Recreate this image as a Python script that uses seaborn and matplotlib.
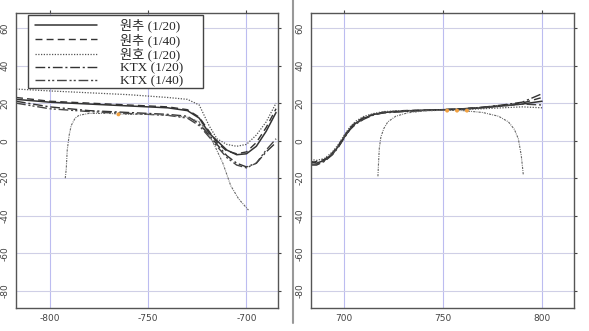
import matplotlib
matplotlib.use("Agg")
import matplotlib.pyplot as plt
from matplotlib.lines import Line2D
from matplotlib.patches import Rectangle
import seaborn as sns

sns.set_style("white")
plt.rcParams['font.family'] = ['DejaVu Sans', 'Noto Sans CJK KR']

labels = ["원추 (1/20)", "원추 (1/40)", "원호 (1/20)", "KTX (1/20)", "KTX (1/40)"]
styles = ["-", (0, (5, 3)), (0, (1, 1.2)), (0, (7, 2, 1.5, 2)), (0, (7, 2, 1.5, 1.5, 1.5, 2))]
colors = ["#333333", "#333333", "#555555", "#333333", "#444444"]
widths = [1.1, 1.0, 0.9, 1.0, 1.0]

# Left panel (negative side)
L_x = [-817, -800, -780, -760, -740, -730, -724, -719, -715, -710, -705, -700, -695, -690, -685]
L_c20 = [22, 20.5, 19.5, 18.5, 17.5, 16, 12, 4, 0, -5, -7.5, -7, -3, 5, 15]
L_c40 = [23, 21, 20, 19, 18, 16.5, 12.5, 5, -1, -5.5, -7, -6, -1, 7, 17]
L_h20 = [27.5, 26.5, 25.5, 24.5, 23, 22, 19, 8, 1, -2, -3, -2, 3, 10, 20]
L_k20 = [21, 18, 16, 15, 14, 13, 9, 3, -2, -8, -12, -14, -12, -6, -1]
L_k40 = [20, 17, 15.5, 14.5, 13.5, 12, 8, 2, -3, -9, -13, -14.5, -12, -5, 1]
L_series = [L_c20, L_c40, L_h20, L_k20, L_k40]

L_ex_x = [-792, -791.5, -791, -790, -789, -787, -785, -780, -770, -760, -750, -740, -730, -724, -720, -716, -712, -708, -704, -699]
L_ex_y = [-20, -15, -5, 3, 8, 12, 13.5, 14.5, 14.5, 14, 14, 13.5, 12.5, 10, 5, -3, -12, -24, -31, -37]
L_dot_x = [-765]
L_dot_y = [14]

# Right panel (positive side)
R_x = [683, 686, 690, 694, 697, 700, 703, 706, 710, 715, 720, 730, 740, 750, 760, 770, 780, 790, 800]
R_c20 = [-11, -12, -10.5, -7, -3, 2, 6.5, 9.5, 12, 14, 15, 15.8, 16.2, 16.5, 16.8, 17.5, 18.5, 19.5, 21]
R_c40 = [-12, -11, -10, -6.5, -2.5, 2.5, 7, 10, 12.5, 14.2, 15.2, 16, 16.3, 16.5, 17, 17.8, 18.8, 20, 23]
R_h20 = [-10, -10.5, -9.5, -6, -2, 3, 7.5, 10.5, 13, 14.5, 15.5, 16, 16.2, 16.3, 16.5, 17, 17.5, 18, 17.5]
R_k20 = [-13, -13, -11, -7.5, -3.5, 1.5, 6, 9, 11.5, 13.8, 14.8, 15.5, 16, 16.5, 17, 17.8, 19, 20.5, 25]
R_k40 = [-12.5, -12.5, -10.8, -7.2, -3.2, 1.8, 6.2, 9.2, 11.8, 13.9, 14.9, 15.6, 16.1, 16.4, 16.9, 17.6, 18.5, 19.5, 19]
R_series = [R_c20, R_c40, R_h20, R_k20, R_k40]

R_ex_x = [717, 717.3, 717.7, 718.5, 720, 722, 726, 732, 740, 750, 760, 770, 778, 783, 786, 788, 789.5, 790.5]
R_ex_y = [-19, -12, -4, 2, 6.5, 10, 13, 14.8, 15.8, 16.2, 16, 15, 13, 10, 6, 1, -8, -18]
R_dot_x = [752, 757, 762]
R_dot_y = [16, 16, 16]

xticks_L = [-800, -750, -700]
xticks_R = [700, 750, 800]
yticks = [60, 40, 20, 0, -20, -40, -60, -80]

fig = plt.figure(figsize=(5.89, 3.31), dpi=100)
axL = fig.add_axes([0.0272, 0.0704, 0.4448, 0.8903])
axR = fig.add_axes([0.5275, 0.0704, 0.4465, 0.8903])

def draw(ax, xs, series, ex_x, ex_y, dx, dy, xlim, xticks):
    for ys, st, c, w in zip(series, styles, colors, widths):
        sns.lineplot(x=xs, y=ys, ax=ax, color=c, linestyle=st, linewidth=w,
                     estimator=None, sort=False, legend=False)
    sns.lineplot(x=ex_x, y=ex_y, ax=ax, color="#666666", linestyle=(0, (2, 1, 0.8, 1)),
                 linewidth=0.8, estimator=None, sort=False, legend=False)
    sns.scatterplot(x=dx, y=dy, ax=ax, color="#f0a040", s=8, edgecolor="none", legend=False, zorder=5)
    ax.set_xlim(*xlim)
    ax.set_ylim(-89, 68)
    ax.set_xticks(xticks)
    ax.set_yticks(yticks)
    ax.set_xticklabels([str(t) for t in xticks])
    ax.set_yticklabels([str(t) for t in yticks], rotation=90, va="center")
    for t in xticks:
        ax.axvline(t, color="#bcbcf0", linewidth=0.8, zorder=0)
    for t in yticks:
        ax.axhline(t, color="#cfcfe6", linewidth=0.8, zorder=0)
    for s in ax.spines.values():
        s.set_color("#555555")
        s.set_linewidth(1.0)
    ax.tick_params(axis="both", labelsize=6.5, colors="#444444", length=2.5, width=0.8,
                   direction="out", top=True, right=True, pad=2)
    ax.set_xlabel("")
    ax.set_ylabel("")

draw(axL, L_x, L_series, L_ex_x, L_ex_y, L_dot_x, L_dot_y, (-817, -684), xticks_L)
draw(axR, R_x, R_series, R_ex_x, R_ex_y, R_dot_x, R_dot_y, (683, 816), xticks_R)

# legend frame
axL.add_patch(Rectangle((0.047, 0.745), 0.6656, 0.248, transform=axL.transAxes,
                        facecolor="white", edgecolor="#444444", linewidth=1.0, zorder=6))

handles = [Line2D([0], [0], color=c, linestyle=st, linewidth=w) for st, c, w in zip(styles, colors, widths)]
leg = axL.legend(handles, labels, loc="upper left", bbox_to_anchor=(0.072, 0.98),
                 prop={"family": ["Liberation Serif", "Noto Sans CJK KR"], "size": 9.5},
                 frameon=False, handlelength=4.67, handletextpad=1.77, labelspacing=0.05,
                 borderpad=0.0, borderaxespad=0.0)
leg.set_zorder(7)

fig.add_artist(Line2D([0.4975, 0.4975], [0.025, 1.0], transform=fig.transFigure,
                      color="#999999", linewidth=1.5))

fig.savefig("out.png", dpi=100)
